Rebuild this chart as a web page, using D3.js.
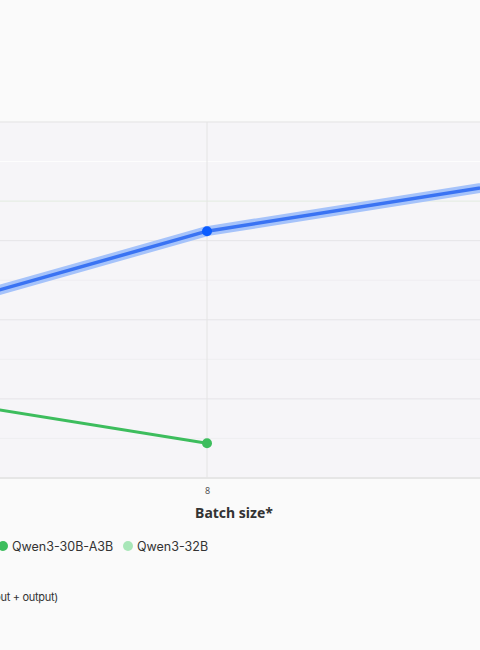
<!DOCTYPE html>
<html><head><meta charset="utf-8">
<script src="https://cdn.jsdelivr.net/npm/d3@7"></script>
<style>
html,body{margin:0;padding:0;background:#fafafa;overflow:hidden;}
svg{display:block;font-family:"Noto Sans",Inter,sans-serif;}
</style></head><body>
<svg id="c" width="480" height="650"></svg>
<script>
const batchSizes = ["4", "8", "16"];
const xTickLabels = ["8"];
const moeValues = [1760, 3120, 3880];      // blue series
const a3bValues = [1210, 440, null];       // Qwen3-30B-A3B (green)
const yTicks = [0,500,1000,1500,2000,2500,3000,3500,4000,4500];
const legendNames = ["Qwen3-30B-A3B", "Qwen3-32B"];

(function(){
const svg = d3.select("#c");
const pTop = 122, pBottom = 478, pLeft = -300, pRight = 780;
const x = d3.scalePoint().domain(batchSizes).range([-173, 587]);
const y = d3.scaleLinear().domain([0, 4500]).range([pBottom, pTop]);

svg.append("rect").attr("x", pLeft).attr("y", pTop).attr("width", pRight-pLeft).attr("height", pBottom-pTop).attr("fill", "#f6f5f8");

const gridCols = ["#e6e6e6","#efeef1","#e5e4e8","#efeef1","#e5e4e8","#efeef1","#e5e4e8","#e2ebe0","#fdfdfd","#e3e3e3"];
svg.append("g").selectAll("line").data(yTicks).join("line")
  .attr("x1", pLeft).attr("x2", pRight)
  .attr("y1", d => y(d)).attr("y2", d => y(d))
  .attr("stroke", (d,i) => gridCols[i]).attr("stroke-width", (d,i)=> i===0?2:1);

svg.append("g").selectAll("line").data(batchSizes).join("line")
  .attr("x1", d => x(d)).attr("x2", d => x(d))
  .attr("y1", pTop).attr("y2", pBottom)
  .attr("stroke", "#e4e4e4");

const xAxis = d3.axisBottom(x).tickValues(xTickLabels).tickSize(0).tickPadding(10);
const gx = svg.append("g").attr("transform", `translate(0,${pBottom})`).call(xAxis);
gx.select(".domain").remove();
gx.selectAll("text").attr("font-size", 9).attr("fill", "#555").attr("font-family", "Noto Sans, sans-serif");

const line = d3.line().defined(d => d.v != null).x(d => x(d.k)).y(d => y(d.v));
const blue = batchSizes.map((k,i) => ({k, v: moeValues[i]}));
const green = batchSizes.map((k,i) => ({k, v: a3bValues[i]}));

svg.append("path").datum(blue).attr("d", line).attr("fill","none").attr("stroke","#a6c3fa").attr("stroke-width",10).attr("stroke-linejoin","round");
svg.append("path").datum(blue).attr("d", line).attr("fill","none").attr("stroke","#3a73f3").attr("stroke-width",3.5).attr("stroke-linejoin","round");
svg.append("path").datum(green).attr("d", line).attr("fill","none").attr("stroke","#3dbd5d").attr("stroke-width",3).attr("stroke-linejoin","round");

svg.append("circle").attr("cx", x("8")).attr("cy", y(moeValues[1])).attr("r", 5).attr("fill", "#0b5cff");
svg.append("circle").attr("cx", x("8")).attr("cy", y(a3bValues[1])).attr("r", 5).attr("fill", "#3dbd5d");

svg.append("text").attr("x", 234).attr("y", 518).attr("text-anchor","middle").attr("font-size",14).attr("font-weight",700).attr("fill","#333").text("Batch size*");

const legCols = ["#3dbd5d", "#a8e6b8"];
const legX = [3, 128];
const lg = svg.append("g").selectAll("g").data(legendNames).join("g").attr("transform",(d,i)=>`translate(${legX[i]},546)`);
lg.append("circle").attr("r",5).attr("fill",(d,i)=>legCols[i]);
lg.append("text").attr("x",9).attr("y",5).attr("font-size",12.5).attr("font-family","Inter, sans-serif").attr("fill","#333").text(d=>d);

svg.append("text").attr("x", 58).attr("y", 601).attr("text-anchor","end").attr("font-size",11).attr("letter-spacing",-0.3).attr("font-family","Inter, sans-serif").attr("fill","#333").text("(input + output)");
})();
</script>
</body></html>
